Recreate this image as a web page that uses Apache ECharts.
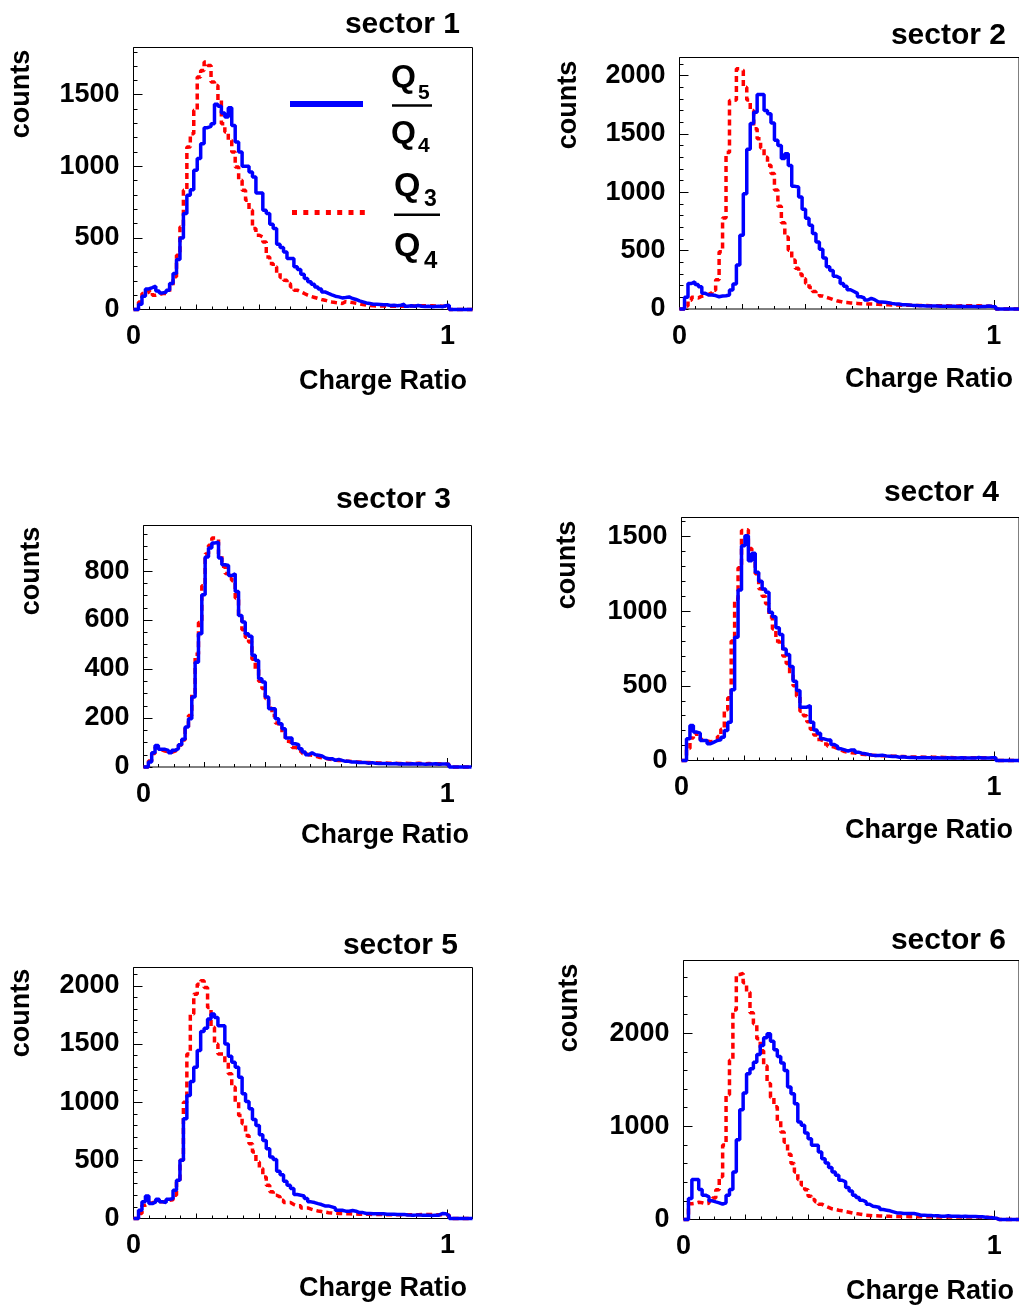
<!DOCTYPE html>
<html>
<head>
<meta charset="utf-8">
<script src="https://cdn.jsdelivr.net/npm/echarts@6/dist/echarts.min.js"></script>
<style>html,body{margin:0;padding:0;background:#fff}#c{width:1019px;height:1308px}</style>
</head>
<body>
<div id="c"></div>
<script>
// ---------------- data ----------------
const BIN_START = 0.005;
const BIN_WIDTH = 0.011;
const X_MAX = 1.08;
const sectorNames = ['sector 1', 'sector 2', 'sector 3', 'sector 4', 'sector 5', 'sector 6'];
const xTickLabels = ['0', '1'];
const yTitle = 'counts';
const xTitle = 'Charge Ratio';

// Q5/Q4 (blue) and Q3/Q4 (red) histograms, one value per bin
const s1Q5Q4 = [0,37,93,144,153,163,130,116,121,135, 181,251,349,500,670,798,837,972,1054,1158, 1270,1279,1298,1433,1419,1372,1344,1410,1286,1170, 1100,1000,1000,960,926,814,814,693,670,595, 565,456,433,402,356,356,298,279,247,216, 193,177,158,144,123,112,102,93,88,81, 84,88,77,70,60,53,46,42,37,37, 35,33,33,28,30,26,30,37,23,26, 23,28,23,21,23,19,21,23,19,26, 30,0,0,0,0,0,0,0];
const s1Q3Q4 = [0,53,112,121,135,100,105,112,112,123, 153,228,379,577,833,1135,1228,1391,1624,1670, 1728,1705,1589,1565,1461,1298,1240,1182,1100,996, 902,833,763,693,565,519,507,472,367,321, 298,256,223,205,181,158,135,123,112,100, 91,84,77,70,65,58,53,49,46,42, 55,52,48,44,40,35,30,28,26,25, 24,24,23,23,22,22,23,22,22,24, 24,25,26,26,27,26,25,24,23,22, 22,0,0,0,0,0,0,0];

const s2Q5Q4 = [0,100,219,234,210,190,134,120,120,115, 105,111,114,120,162,214,376,632,987,1368, 1590,1686,1838,1838,1700,1672,1593,1445,1402,1290, 1330,1230,1051,1045,960,855,778,718,647,575, 512,436,362,330,280,265,219,195,165,150, 134,105,95,77,91,80,63,60,57,54, 48,43,43,37,37,34,31,31,28,28, 26,26,25,25,24,24,23,23,24,22, 23,22,22,21,22,20,21,22,26,22, 20,0,0,0,0,0,0,0];
const s2Q3Q4 = [0,25,75,100,95,110,115,125,140,160, 250,490,780,1340,1787,1790,2058,2044,1900,1790, 1700,1545,1459,1380,1300,1231,1160,1020,880,740, 618,504,420,350,300,260,219,185,150,130, 111,100,91,80,71,65,57,55,52,50, 48,46,45,43,43,42,40,38,37,36, 35,35,34,33,32,32,31,30,30,29, 29,28,28,28,27,27,27,26,26,26, 27,26,28,27,26,27,25,25,24,24, 23,0,0,0,0,0,0,0];

const s3Q5Q4 = [0,20,58,88,72,72,68,58,68,75, 91,113,163,197,286,428,544,703,857,894, 915,918,853,826,823,782,789,717,619,592, 544,534,456,435,360,347,286,238,238,197, 177,156,118,118,95,91,75,61,50,58, 50,48,45,37,34,34,27,31,27,23, 23,20,20,18,18,18,15,18,15,14, 14,14,13,13,14,12,13,12,12,13, 12,13,12,11,12,12,13,11,12,12, 11,0,0,0,0,0,0,0];
const s3Q3Q4 = [0,25,55,80,70,65,62,60,65,72, 90,110,160,210,300,460,590,740,870,905, 935,930,870,820,790,770,760,690,610,560, 530,510,440,400,350,320,280,240,210,180, 160,140,105,100,80,75,65,55,50,48, 45,40,38,35,33,30,28,27,26,25, 23,22,21,20,19,18,18,17,17,16, 16,16,15,15,15,14,14,15,14,14, 14,15,14,13,14,13,12,13,12,12, 11,0,0,0,0,0,0,0];

const s4Q5Q4 = [0,145,234,190,183,134,134,112,123,134, 138,156,201,256,473,825,1142,1438,1505,1338, 1387,1260,1200,1148,1126,992,963,888,843,747, 709,629,531,468,357,357,368,256,205,183, 145,138,138,107,94,78,71,62,71,71, 56,49,45,40,36,33,33,36,31,29, 27,27,22,25,22,20,20,18,18,20, 18,18,17,18,17,16,18,17,16,17, 18,17,16,17,16,20,17,16,16,18, 18,0,0,0,0,0,0,0];
const s4Q3Q4 = [0,80,150,185,155,140,130,125,130,140, 160,210,340,420,800,1080,1290,1540,1545,1420, 1380,1250,1150,1100,1050,960,880,800,770,700, 650,570,500,430,330,300,260,210,170,140, 130,110,95,90,80,70,60,55,52,50, 45,42,40,38,36,34,33,32,31,30, 29,28,27,26,25,24,24,23,23,22, 22,22,21,21,21,20,20,20,19,19, 19,19,19,18,18,18,19,18,17,17, 17,0,0,0,0,0,0,0];

const s5Q5Q4 = [0,71,143,194,128,143,166,143,137,166, 171,243,328,500,857,1057,1177,1300,1443,1606, 1634,1714,1757,1728,1657,1657,1500,1394,1343,1300, 1214,1071,1006,943,851,800,720,671,600,528, 508,406,377,320,286,257,206,200,194,171, 143,137,128,120,108,108,100,91,71,71, 63,63,68,63,51,51,43,43,40,40, 40,40,37,37,37,34,34,34,31,29, 29,31,29,29,29,26,29,29,43,40, 23,0,0,0,0,0,0,0];
const s5Q3Q4 = [0,43,114,129,135,143,145,145,145,157, 160,200,314,500,1000,1414,1757,1928,2014,2043, 1986,1814,1643,1500,1414,1414,1343,1243,1129,1000, 886,814,714,643,571,486,429,357,286,229, 200,186,157,137,137,120,109,109,91,91, 80,71,65,60,55,50,48,45,43,42, 40,40,39,38,37,37,36,36,35,35, 34,34,33,33,33,32,32,32,32,32, 32,33,34,35,35,34,33,32,32,31, 30,0,0,0,0,0,0,0];

const s6Q5Q4 = [0,225,429,429,321,261,243,200,189,179, 164,179,261,321,511,857,1178,1357,1564,1618, 1689,1771,1868,1950,1993,1914,1821,1750,1679,1600, 1421,1350,1243,1046,1011,928,868,796,796,725, 653,607,557,511,475,421,404,343,307,261, 236,207,189,164,143,136,129,107,100,93, 82,71,71,64,64,64,64,57,46,46, 43,43,39,39,36,36,39,36,36,36, 32,36,32,32,32,29,29,25,21,18, 14,0,0,0,0,0,0,0];
const s6Q3Q4 = [0,170,175,185,180,170,175,200,230,320, 460,800,1340,1710,2250,2630,2640,2540,2440,2220, 2100,1940,1810,1650,1460,1310,1210,1060,940,830, 700,600,510,430,370,320,250,215,190,165, 145,130,115,108,100,93,85,78,70,64, 58,52,46,43,40,39,38,36,36,34, 33,32,32,31,31,30,30,30,29,29, 29,29,28,28,28,28,28,28,28,28, 28,28,27,27,26,26,25,24,22,20, 16,0,0,0,0,0,0,0];

const blueSeries = [s1Q5Q4, s2Q5Q4, s3Q5Q4, s4Q5Q4, s5Q5Q4, s6Q5Q4];
const redSeries = [s1Q3Q4, s2Q3Q4, s3Q3Q4, s4Q3Q4, s5Q3Q4, s6Q3Q4];

// axis ranges
const yMaxes = [1830, 2155, 986, 1627, 2157, 2780];
const yMajorSteps = [500, 500, 200, 500, 500, 1000];
const yMinorSteps = [100, 100, 50, 100, 100, 200];

// ---------------- layout ----------------
const FONT = '"Liberation Sans", Arial, Helvetica, sans-serif';
// [left, top, width, height]
const gridRects = [
  [133.5, 47.5, 339, 262],
  [679.5, 57.5, 339.5, 251.5],
  [143.5, 525.5, 328, 241.5],
  [681.5, 517.5, 338, 243],
  [133.5, 967.5, 339, 251],
  [683.5, 960.5, 338.5, 259]
];
const titlePos = [[460, 25], [1006, 36], [451, 500], [999, 493], [458, 946], [1006, 941]];
const yTitlePos = [[22, 94], [569, 105], [32, 571], [568, 565], [22, 1013], [570, 1008]];
const xTitlePos = [[467, 382], [1013, 380], [469, 836], [1013, 831], [467, 1289], [1014, 1292]];

const BLUE = '#0000ff', RED = '#ff0000';

function histData(vals) {
  const d = [[0, 0]];
  vals.forEach((v, i) => d.push([BIN_START + i * BIN_WIDTH, v]));
  d.push([X_MAX, 0]);
  return d;
}

const grids = [], xAxes = [], yAxes = [], series = [], graphics = [];
const tickStyle = { color: '#000', width: 1 };

for (let p = 0; p < 6; p++) {
  const r = gridRects[p];
  grids.push({ left: r[0], top: r[1], width: r[2], height: r[3], show: true, borderColor: '#000', borderWidth: 1, backgroundColor: 'transparent', containLabel: false });
  const xMain = xAxes.length;
  xAxes.push({
    type: 'value', gridIndex: p, min: 0, max: X_MAX, interval: 1, position: 'bottom',
    axisLine: { show: false }, splitLine: { show: false },
    axisTick: { inside: true, length: 9, lineStyle: tickStyle },
    axisLabel: {
      margin: 14, fontSize: 27, fontWeight: 'bold', color: '#000', fontFamily: FONT,
      showMaxLabel: false,
      formatter: v => (Math.abs(v) < 1e-9 ? xTickLabels[0] : (Math.abs(v - 1) < 1e-9 ? xTickLabels[1] : ''))
    }
  });
  xAxes.push({
    type: 'value', gridIndex: p, min: 0, max: X_MAX, interval: 0.2, position: 'bottom',
    axisLine: { show: false }, splitLine: { show: false }, axisLabel: { show: false },
    axisTick: { inside: true, length: 5, lineStyle: tickStyle }
  });
  xAxes.push({
    type: 'value', gridIndex: p, min: 0, max: X_MAX, interval: 0.05, position: 'bottom',
    axisLine: { show: false }, splitLine: { show: false }, axisLabel: { show: false },
    axisTick: { inside: true, length: 3, lineStyle: tickStyle }
  });
  const yMain = yAxes.length;
  yAxes.push({
    type: 'value', gridIndex: p, min: 0, max: yMaxes[p], interval: yMajorSteps[p], position: 'left',
    axisLine: { show: false }, splitLine: { show: false },
    axisTick: { inside: true, length: 9, lineStyle: tickStyle },
    axisLabel: { margin: 14, fontSize: 27, fontWeight: 'bold', color: '#000', fontFamily: FONT, showMaxLabel: false, padding: [5, 0, 0, 0], formatter: v => String(Math.round(v)) }
  });
  yAxes.push({
    type: 'value', gridIndex: p, min: 0, max: yMaxes[p], interval: yMinorSteps[p], position: 'left',
    axisLine: { show: false }, splitLine: { show: false }, axisLabel: { show: false },
    axisTick: { inside: true, length: 4, lineStyle: tickStyle }
  });
  series.push({
    type: 'line', name: 'Q3/Q4', xAxisIndex: xMain, yAxisIndex: yMain, step: 'end', showSymbol: false, symbol: 'none',
    clip: false, data: histData(redSeries[p]),
    lineStyle: { color: RED, width: 3.5, type: [6, 4], cap: 'butt' }, z: 2
  });
  series.push({
    type: 'line', name: 'Q5/Q4', xAxisIndex: xMain, yAxisIndex: yMain, step: 'end', showSymbol: false, symbol: 'none',
    clip: false, data: histData(blueSeries[p]),
    lineStyle: { color: BLUE, width: 3.5 }, z: 3
  });
  graphics.push({ type: 'text', x: titlePos[p][0], y: titlePos[p][1], style: { text: sectorNames[p], fill: '#000', fontSize: 30, fontWeight: 'bold', fontFamily: FONT, align: 'right', verticalAlign: 'middle' } });
  graphics.push({ type: 'text', x: yTitlePos[p][0], y: yTitlePos[p][1], rotation: Math.PI / 2, style: { text: yTitle, fill: '#000', fontSize: 27, fontWeight: 'bold', fontFamily: FONT, align: 'center', verticalAlign: 'middle' } });
  graphics.push({ type: 'text', x: xTitlePos[p][0], y: xTitlePos[p][1], style: { text: xTitle, fill: '#000', fontSize: 27, fontWeight: 'bold', fontFamily: FONT, align: 'right', verticalAlign: 'middle' } });
}

// legend in sector 1 panel
function qText(x, y, txt, size) {
  return { type: 'text', x: x, y: y, style: { text: txt, fill: '#000', fontSize: size, fontWeight: 'bold', fontFamily: FONT, align: 'left', verticalAlign: 'middle' } };
}
graphics.push({ type: 'line', shape: { x1: 290, y1: 104, x2: 363, y2: 104 }, style: { stroke: BLUE, lineWidth: 6 } });
graphics.push({ type: 'line', shape: { x1: 292, y1: 212.5, x2: 367, y2: 212.5 }, style: { stroke: RED, lineWidth: 5, lineDash: [5, 6.3] } });
graphics.push(qText(391, 78, 'Q', 32));
graphics.push(qText(418, 93, '5', 21));
graphics.push({ type: 'line', shape: { x1: 392, y1: 105.5, x2: 432, y2: 105.5 }, style: { stroke: '#000', lineWidth: 2.5 } });
graphics.push(qText(391, 134, 'Q', 32));
graphics.push(qText(418, 146, '4', 21));
graphics.push(qText(394, 187, 'Q', 34));
graphics.push(qText(424, 200, '3', 23));
graphics.push({ type: 'line', shape: { x1: 394, y1: 214.8, x2: 440, y2: 214.8 }, style: { stroke: '#000', lineWidth: 2.5 } });
graphics.push(qText(394, 247, 'Q', 34));
graphics.push(qText(424, 261, '4', 24));

const chart = echarts.init(document.getElementById('c'), null, { renderer: 'canvas' });
chart.setOption({
  animation: false,
  backgroundColor: '#fff',
  grid: grids,
  xAxis: xAxes,
  yAxis: yAxes,
  series: series,
  graphic: graphics
});
</script>
</body>
</html>
